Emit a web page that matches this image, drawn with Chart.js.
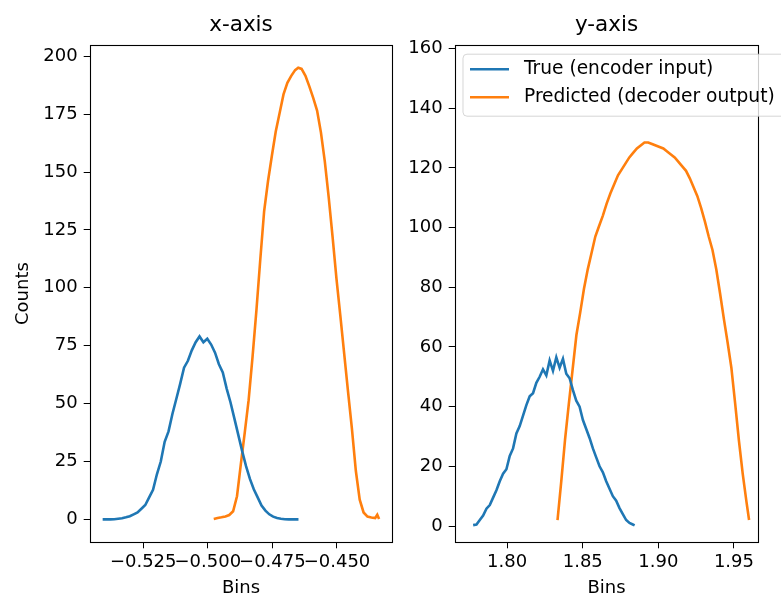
<!DOCTYPE html>
<html>
<head>
<meta charset="utf-8">
<script src="https://cdn.jsdelivr.net/npm/chart.js@4.4.1/dist/chart.umd.min.js"></script>
<style>
html,body{margin:0;padding:0;background:#fff;width:781px;height:600px;overflow:hidden;}
#c1{position:absolute;left:0;top:0;}
#c2{position:absolute;left:400px;top:0;}
</style>
</head>
<body>
<canvas id="c1" width="400" height="600"></canvas>
<canvas id="c2" width="381" height="600"></canvas>
<script>
// ---- Data ----
const titles = ['x-axis', 'y-axis'];
const seriesNames = ['True (encoder input)', 'Predicted (decoder output)'];

// x-axis panel, true (encoder input)
const xTrueBins = [-0.5407,-0.5392,-0.5377,-0.5362,-0.5347,-0.5332,-0.5317,-0.5302,-0.5287,-0.5272,-0.5257,-0.5242,-0.5227,-0.5212,-0.5197,-0.5182,-0.5167,-0.5152,-0.5137,-0.5122,-0.5107,-0.5092,-0.5077,-0.5062,-0.5047,-0.5032,-0.5017,-0.5002,-0.4987,-0.4972,-0.4957,-0.4942,-0.4927,-0.4912,-0.4897,-0.4882,-0.4867,-0.4852,-0.4837,-0.4822,-0.4807,-0.4792,-0.4777,-0.4762,-0.4747,-0.4732,-0.4717,-0.4702,-0.4687,-0.4672,-0.4657,-0.4649];
const xTrueCounts = [0,0,0,0.1,0.3,0.5,0.9,1.4,2.2,3.0,4.6,6.2,9.5,12.8,19.5,25.0,33.5,38.0,45.5,52.0,58.5,65.5,68.5,73.0,76.5,79.0,76.5,78.0,75.5,72.0,67.0,63.5,56.5,50.5,43.5,36.5,29.5,23.0,17.5,13.0,9.5,6.0,3.8,2.2,1.2,0.6,0.3,0.1,0,0,0,0];

// x-axis panel, predicted (decoder output)
const xPredBins = [-0.4977,-0.4962,-0.4947,-0.4932,-0.4917,-0.4902,-0.4887,-0.4872,-0.4857,-0.4842,-0.4827,-0.4812,-0.4797,-0.4782,-0.4767,-0.4752,-0.4737,-0.4722,-0.4707,-0.4692,-0.4677,-0.4662,-0.4650,-0.4637,-0.4622,-0.4607,-0.4592,-0.4577,-0.4562,-0.4547,-0.4532,-0.4517,-0.4502,-0.4487,-0.4472,-0.4457,-0.4442,-0.4427,-0.4412,-0.4397,-0.4382,-0.4367,-0.4352,-0.4344,-0.4337];
const xPredCounts = [0.2,0.6,0.9,1.3,1.9,3.5,10.0,24.0,37.5,51.5,70.0,90.0,112.0,133.0,146.0,157.0,167.5,175.5,183.5,188.5,191.5,194.0,195.0,194.5,191.5,187.0,182.0,176.5,167.0,154.5,139.0,122.0,104.0,88.0,71.5,55.0,39.0,21.0,8.5,3.0,1.2,0.8,0.6,2.0,0.2];

// y-axis panel, true (encoder input)
const yTrueBins = [1.7775,1.7797,1.7819,1.7841,1.7863,1.7885,1.7907,1.7929,1.7951,1.7973,1.7995,1.8017,1.8039,1.8061,1.8083,1.8105,1.8127,1.8149,1.8171,1.8193,1.8215,1.8237,1.8259,1.8281,1.8303,1.8325,1.8347,1.8369,1.8391,1.8413,1.8435,1.8457,1.8479,1.8501,1.8523,1.8545,1.8567,1.8589,1.8611,1.8633,1.8655,1.8677,1.8699,1.8721,1.8743,1.8765,1.8787,1.8809,1.8831,1.8843];
const yTrueCounts = [0.3,0.5,2.0,3.5,5.8,7.0,9.5,12.0,15.0,17.5,19.0,23.5,26.0,31.0,33.5,37.0,40.5,43.5,44.5,48.0,50.0,52.5,50.5,55.5,52.0,56.5,53.0,56.0,51.0,49.5,45.5,42.0,40.0,35.5,32.5,29.5,26.0,23.0,20.0,18.0,15.0,12.5,10.0,8.5,6.0,4.0,2.0,1.0,0.5,0.2];

// y-axis panel, predicted (decoder output)
const yPredBins = [1.8333,1.8358,1.8383,1.8408,1.8433,1.8458,1.8483,1.8508,1.8533,1.8558,1.8583,1.8608,1.8633,1.8658,1.8683,1.8708,1.8733,1.8758,1.8783,1.8808,1.8833,1.8858,1.8883,1.8908,1.8933,1.8958,1.8983,1.9008,1.9033,1.9058,1.9083,1.9108,1.9133,1.9158,1.9183,1.9208,1.9233,1.9258,1.9283,1.9308,1.9333,1.9358,1.9383,1.9408,1.9433,1.9458,1.9483,1.9508,1.9533,1.9558,1.9583,1.9600];
const yPredCounts = [2.0,15.0,29.0,41.0,52.5,64.0,71.5,79.5,86.0,91.5,97.0,100.5,104.0,108.0,111.5,114.5,117.5,119.5,121.5,123.5,125.0,126.5,127.5,128.5,128.5,128.0,127.5,127.0,126.5,125.5,124.5,123.5,122.0,120.5,119.0,116.5,113.5,110.5,106.5,102.0,97.0,92.5,86.0,78.0,69.5,61.5,53.0,41.0,28.5,17.5,8.0,2.0];

// tick values
const xPanelXTicks = [-0.525, -0.500, -0.475, -0.450];
const xPanelYTicks = [0, 25, 50, 75, 100, 125, 150, 175, 200];
const yPanelXTicks = [1.80, 1.85, 1.90, 1.95];
const yPanelYTicks = [0, 20, 40, 60, 80, 100, 120, 140, 160];

// ---- Rendering ----
const FONT = 'DejaVu Sans';
const BLUE = '#1f77b4', ORANGE = '#ff7f0e';
const LW = 2.6;
const toPts = (xs, ys) => xs.map((x, i) => ({x: x, y: ys[i]}));

const framePlugin = {
  id: 'frame',
  afterDatasetsDraw(chart) {
    const a = chart.chartArea, ctx = chart.ctx;
    ctx.save();
    ctx.strokeStyle = '#000';
    ctx.lineWidth = 1.1;
    ctx.strokeRect(Math.round(a.left) + 0.5, Math.round(a.top) + 0.5, Math.round(a.right - a.left), Math.round(a.bottom - a.top));
    ctx.restore();
  }
};

const legendPlugin = {
  id: 'insideLegend',
  afterDraw(chart) {
    const ctx = chart.ctx;
    const a = chart.chartArea;
    const bx = a.left + 8, by = a.top + 9, bw = 340, bh = 62, r = 4;
    ctx.save();
    ctx.fillStyle = 'rgba(255,255,255,0.8)';
    ctx.strokeStyle = 'rgba(204,204,204,0.8)';
    ctx.lineWidth = 1;
    ctx.beginPath();
    ctx.moveTo(bx + r, by);
    ctx.lineTo(bx + bw - r, by);
    ctx.quadraticCurveTo(bx + bw, by, bx + bw, by + r);
    ctx.lineTo(bx + bw, by + bh - r);
    ctx.quadraticCurveTo(bx + bw, by + bh, bx + bw - r, by + bh);
    ctx.lineTo(bx + r, by + bh);
    ctx.quadraticCurveTo(bx, by + bh, bx, by + bh - r);
    ctx.lineTo(bx, by + r);
    ctx.quadraticCurveTo(bx, by, bx + r, by);
    ctx.closePath();
    ctx.fill();
    ctx.stroke();
    const colors = [BLUE, ORANGE];
    ctx.font = '18.6px "' + FONT + '"';
    ctx.textBaseline = 'middle';
    ctx.textAlign = 'left';
    seriesNames.forEach((name, i) => {
      const y = by + 15 + i * 28;
      ctx.strokeStyle = colors[i];
      ctx.lineWidth = LW;
      ctx.beginPath();
      ctx.moveTo(bx + 7, y);
      ctx.lineTo(bx + 46, y);
      ctx.stroke();
      ctx.fillStyle = '#000';
      ctx.fillText(name, bx + 61, y);
    });
    ctx.restore();
  }
};

function fmtX(v) {
  return (v < 0 ? '\u2212' : '') + Math.abs(v).toFixed(3);
}

function makeChart(id, cfg) {
  return new Chart(document.getElementById(id), {
    type: 'line',
    data: {
      datasets: [
        {label: seriesNames[0], data: cfg.trueData, borderColor: BLUE, borderWidth: LW, pointRadius: 0, tension: 0, fill: false},
        {label: seriesNames[1], data: cfg.predData, borderColor: ORANGE, borderWidth: LW, pointRadius: 0, tension: 0, fill: false}
      ]
    },
    options: {
      responsive: false,
      animation: false,
      events: [],
      layout: {padding: {left: 0, right: cfg.padRight, top: 0, bottom: 0}},
      plugins: {
        legend: {display: false},
        tooltip: {enabled: false},
        title: {
          display: true, text: cfg.title, fullSize: false, color: '#000',
          font: {family: FONT, size: 21.5, weight: 'normal'},
          padding: {top: 12.4, bottom: 7}
        }
      },
      scales: {
        x: {
          type: 'linear', min: cfg.xMin, max: cfg.xMax,
          afterBuildTicks: s => { s.ticks = cfg.xTicks.map(v => ({value: v})); },
          afterFit: s => { s.height = 58; },
          ticks: {color: '#000', font: {family: FONT, size: 18}, padding: 3, maxRotation: 0, autoSkip: false,
                  callback: cfg.xFmt},
          grid: {drawOnChartArea: false, drawTicks: true, tickLength: 6.3, color: '#000', tickWidth: 1},
          border: {display: true, color: '#000', width: 1},
          title: {display: true, text: 'Bins', color: '#000', font: {family: FONT, size: 18}, padding: {top: 0, bottom: 1.2}}
        },
        y: {
          type: 'linear', min: cfg.yMin, max: cfg.yMax,
          afterBuildTicks: s => { s.ticks = cfg.yTicks.map(v => ({value: v})); },
          afterFit: s => { s.width = cfg.yWidth; },
          ticks: {color: '#000', font: {family: FONT, size: 18}, padding: 6, autoSkip: false,
                  callback: v => String(v)},
          grid: {drawOnChartArea: false, drawTicks: true, tickLength: 6.3, color: '#000', tickWidth: 1},
          border: {display: true, color: '#000', width: 1},
          title: {display: !!cfg.yTitle, text: cfg.yTitle || '', color: '#000', font: {family: FONT, size: 18}, padding: {top: 13, bottom: 0}}
        }
      }
    },
    plugins: cfg.plugins
  });
}

makeChart('c1', {
  title: titles[0],
  trueData: toPts(xTrueBins, xTrueCounts),
  predData: toPts(xPredBins, xPredCounts),
  xMin: -0.5456, xMax: -0.4287, xTicks: xPanelXTicks, xFmt: v => fmtX(v),
  yMin: -9.75, yMax: 204.75, yTicks: xPanelYTicks,
  yWidth: 90, padRight: 8, yTitle: 'Counts',
  plugins: [framePlugin]
});

makeChart('c2', {
  title: titles[1],
  trueData: toPts(yTrueBins, yTrueCounts),
  predData: toPts(yPredBins, yPredCounts),
  xMin: 1.7655, xMax: 1.9659, xTicks: yPanelXTicks, xFmt: v => v.toFixed(2),
  yMin: -5.36, yMax: 161.1, yTicks: yPanelYTicks,
  yWidth: 55, padRight: 23, yTitle: '',
  plugins: [framePlugin, legendPlugin]
});
</script>
</body>
</html>
